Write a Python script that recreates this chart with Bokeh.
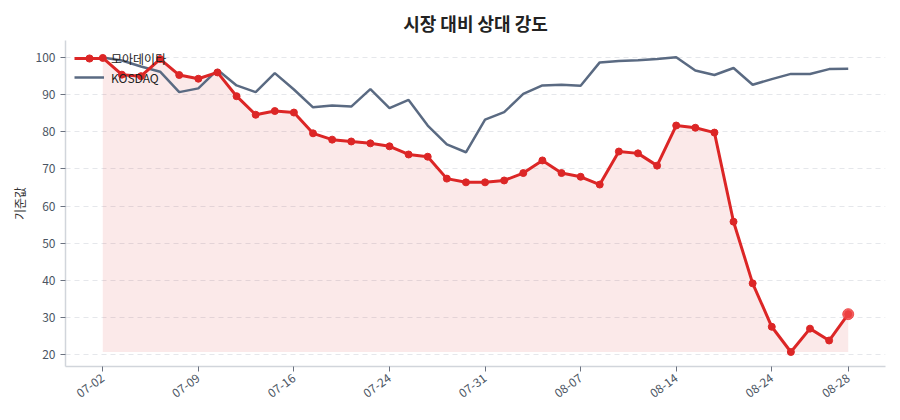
from bokeh.plotting import figure
from bokeh.models import ColumnDataSource, FixedTicker, Legend, LegendItem, Range1d
from bokeh.embed import file_html
from bokeh.resources import INLINE

FONT = "Noto Sans CJK KR"

dates = ["07-02", "07-03", "07-04", "07-07", "07-08", "07-09",
         "07-10", "07-11", "07-14", "07-15", "07-16",
         "07-17", "07-18", "07-21", "07-22", "07-24",
         "07-25", "07-28", "07-29", "07-30", "07-31",
         "08-01", "08-04", "08-05", "08-06", "08-07",
         "08-08", "08-11", "08-12", "08-13", "08-14",
         "08-18", "08-19", "08-20", "08-21", "08-24",
         "08-25", "08-26", "08-27", "08-28"]

stock = [99.9, 95.4, 95.0, 99.6, 95.3, 94.3, 96.0, 89.6, 84.6, 85.6,
         85.2, 79.6, 77.9, 77.4, 76.9, 76.1, 73.9, 73.3, 67.4, 66.4,
         66.4, 66.9, 68.9, 72.3, 68.9, 67.9, 65.8, 74.7, 74.2, 70.9,
         81.7, 81.1, 79.8, 55.8, 39.2, 27.5, 20.7, 27.0, 23.8, 30.9]

kosdaq = [100.0, 99.2, 97.6, 96.2, 90.7, 91.7, 96.7, 92.5, 90.7, 95.8,
          91.4, 86.6, 87.1, 86.8, 91.5, 86.4, 88.6, 81.7, 76.6, 74.5,
          83.3, 85.3, 90.2, 92.5, 92.7, 92.4, 98.7, 99.1, 99.3, 99.6,
          100.1, 96.5, 95.3, 97.2, 92.7, 94.2, 95.6, 95.6, 96.9, 97.0]

tick_idx = [0, 5, 10, 15, 20, 25, 30, 35, 39]
y_ticks = [20, 30, 40, 50, 60, 70, 80, 90, 100]

RED = "#dc2626"
GRAY = "#5a6a82"

idx = list(range(len(dates)))
base = min(stock)
src = ColumnDataSource(dict(x=idx, date=dates, stock=stock, kosdaq=kosdaq,
                            base=[base] * len(idx)))

p = figure(width=892, height=412, output_backend="svg", toolbar_location=None,
           x_range=Range1d(-1.95, len(idx) - 1 + 1.95),
           y_range=Range1d(16.8, 104.6),
           min_border_left=65, min_border_right=7, min_border_top=40,
           min_border_bottom=46)

p.title.text = "시장 대비 상대 강도"
p.title.align = "center"
p.title.text_font = FONT
p.title.text_font_size = "18px"
p.title.text_font_style = "bold"
p.title.text_color = "#222222"

p.outline_line_color = None
p.background_fill_color = "white"

p.varea(x="x", y1="base", y2="stock", source=src, fill_color=RED, fill_alpha=0.1)
kl = p.line("x", "kosdaq", source=src, line_color=GRAY, line_width=2.5)
sl = p.line("x", "stock", source=src, line_color=RED, line_width=3)
sc = p.scatter("x", "stock", source=src, size=7, fill_color=RED, line_color=RED)
last = ColumnDataSource(dict(x=[idx[-1]], y=[stock[-1]]))
p.scatter("x", "y", source=last, size=11, fill_color="#ef4444", line_color="#ef4444",
          fill_alpha=0.85, line_alpha=0.85)

# axes
p.xaxis.ticker = FixedTicker(ticks=tick_idx)
p.xaxis.major_label_overrides = {i: dates[i] for i in tick_idx}
p.xaxis.major_label_orientation = 0.63
p.yaxis.ticker = FixedTicker(ticks=y_ticks)
p.yaxis.axis_label = "기준값"
for ax in (p.xaxis, p.yaxis):
    ax.axis_line_color = "#d1d5db"
    ax.axis_line_width = 1.5
    ax.major_tick_line_color = "#6b7280"
    ax.major_tick_out = 5
    ax.major_tick_in = 0
    ax.minor_tick_line_color = None
    ax.major_label_text_font = FONT
    ax.major_label_text_font_size = "12px"
    ax.major_label_text_color = "#4b5563"
    ax.axis_label_text_font = FONT
    ax.axis_label_text_font_size = "12px"
    ax.axis_label_text_font_style = "normal"
    ax.axis_label_text_color = "#333333"

p.xgrid.grid_line_color = None
p.ygrid.grid_line_color = "#e5e7eb"
p.ygrid.grid_line_dash = "5 4"
p.ygrid.grid_line_width = 1

legend = Legend(items=[LegendItem(label="모아데이타", renderers=[sl, sc]),
                       LegendItem(label="KOSDAQ", renderers=[kl])],
                location="top_left")
legend.background_fill_alpha = 0
legend.border_line_color = None
legend.margin = 9
legend.padding = 6
legend.spacing = 1
legend.glyph_width = 30
legend.glyph_height = 18
legend.label_height = 18
legend.label_standoff = 7
legend.label_text_font = FONT
legend.label_text_font_size = "12px"
legend.label_text_color = "#222222"
p.add_layout(legend)

open("out.html", "w").write(file_html(p, INLINE))
